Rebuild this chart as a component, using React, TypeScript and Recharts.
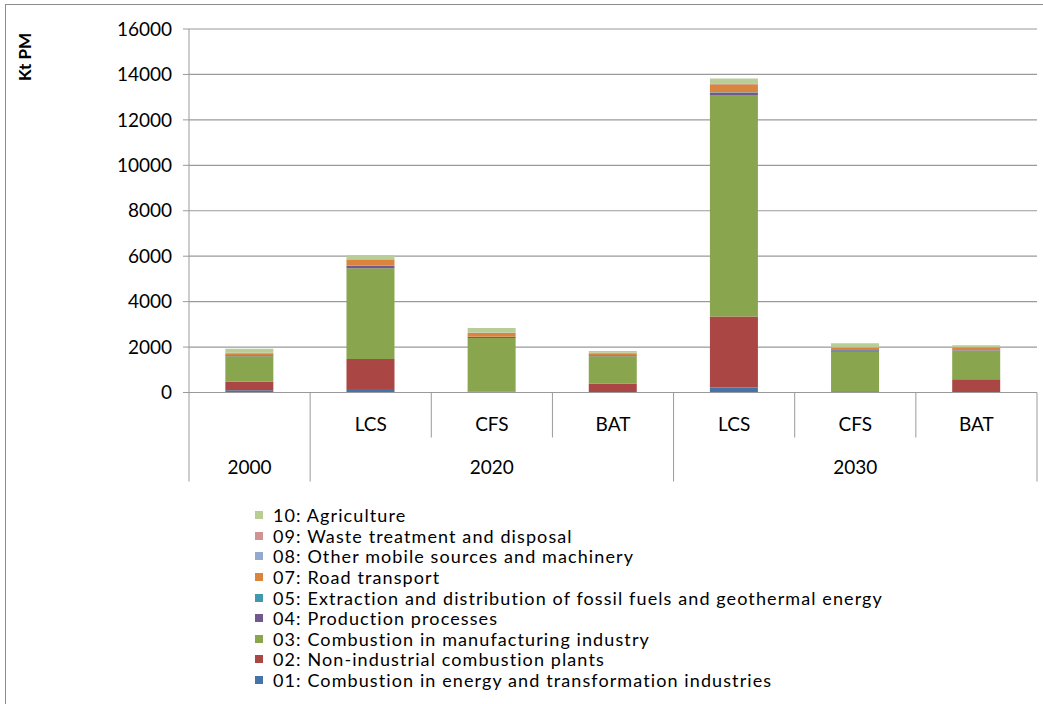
import { Bar, BarChart, CartesianGrid, Legend, XAxis, YAxis } from 'recharts';

const categories = ['2000', '2020 LCS', '2020 CFS', '2020 BAT', '2030 LCS', '2030 CFS', '2030 BAT'];
const groupLabels = ['2000', '2020', '2020', '2020', '2030', '2030', '2030'];
const subLabels = ['', 'LCS', 'CFS', 'BAT', 'LCS', 'CFS', 'BAT'];
const yTicks = [0, 2000, 4000, 6000, 8000, 10000, 12000, 14000, 16000];

const s01 = [100, 150, 20, 15, 220, 20, 15];
const s02 = [380, 1320, 25, 385, 3120, 30, 570];
const s03 = [1120, 4000, 2350, 1200, 9760, 1740, 1240];
const s04 = [40, 100, 45, 40, 90, 75, 25];
const s05 = [10, 20, 10, 10, 25, 10, 10];
const s07 = [80, 250, 165, 75, 350, 90, 115];
const s08 = [15, 25, 15, 15, 30, 15, 15];
const s09 = [10, 15, 10, 10, 20, 10, 10];
const s10 = [170, 160, 200, 80, 210, 180, 80];

// bottom to top of each stack
const series = [
  { key: 's01', name: '01: Combustion in energy and transformation industries', color: '#4572A7', values: s01 },
  { key: 's02', name: '02: Non-industrial combustion plants', color: '#AA4643', values: s02 },
  { key: 's03', name: '03: Combustion in manufacturing industry', color: '#89A54E', values: s03 },
  { key: 's04', name: '04: Production processes', color: '#71588F', values: s04 },
  { key: 's05', name: '05: Extraction and distribution of fossil fuels and geothermal energy', color: '#4198AF', values: s05 },
  { key: 's07', name: '07: Road transport', color: '#DB843D', values: s07 },
  { key: 's08', name: '08: Other mobile sources and machinery', color: '#93A9CF', values: s08 },
  { key: 's09', name: '09: Waste treatment and disposal', color: '#D19392', values: s09 },
  { key: 's10', name: '10: Agriculture', color: '#B9CD96', values: s10 },
];

const data = categories.map((cat, i) => {
  const row: Record<string, string | number> = { cat };
  series.forEach((s) => {
    row[s.key] = s.values[i];
  });
  return row;
});

const FONT = 'Lato, "Open Sans", sans-serif';
const GRID = '#9a9a9a';

function CategoryTick(props: any) {
  const { x, y, index, payload, width, visibleTicksCount } = props;
  const half = payload?.offset || width / visibleTicksCount / 2;
  const isGroupStart = index === 0 || groupLabels[index] !== groupLabels[index - 1];
  const isLast = index === categories.length - 1;
  const members = groupLabels
    .map((g, i) => (g === groupLabels[index] ? i : -1))
    .filter((i) => i >= 0);
  const groupMid = members[0] + (members.length - 1) / 2;
  const groupX = x + (groupMid - index) * half * 2;
  const showGroup = members[0] === index;

  return (
    <g>
      <line x1={x - half} x2={x - half} y1={y} y2={y + (isGroupStart ? 89 : 45)} stroke={GRID} />
      {isLast && <line x1={x + half} x2={x + half} y1={y} y2={y + 89} stroke={GRID} />}
      {subLabels[index] && (
        <text x={x} y={y + 38} textAnchor="middle" fontSize={19} fontFamily={FONT} fill="#000">
          {subLabels[index]}
        </text>
      )}
      {showGroup && (
        <text x={groupX} y={y + 81} textAnchor="middle" fontSize={19} fontFamily={FONT} fill="#000">
          {groupLabels[index]}
        </text>
      )}
    </g>
  );
}

function SectorLegend() {
  return (
    <div style={{ fontFamily: FONT, fontSize: 18, letterSpacing: 1.1, color: '#000' }}>
      {[...series].reverse().map((s) => (
        <div key={s.key} style={{ display: 'flex', alignItems: 'center', height: 20.6, whiteSpace: 'nowrap' }}>
          <span style={{ width: 8, height: 8, background: s.color, marginRight: 10, display: 'inline-block' }} />
          <span>{s.name}</span>
        </div>
      ))}
    </div>
  );
}

export default function App() {
  return (
    <div style={{ position: 'absolute', left: 0, top: 0, width: 1043, height: 704, background: '#fff', overflow: 'hidden' }}>
      <div
        style={{
          position: 'absolute',
          left: 5,
          top: 4,
          width: 1100,
          height: 800,
          borderLeft: '1.5px solid #8c8c8c',
          borderTop: '1.5px solid #8c8c8c',
        }}
      />
      <BarChart
        width={1043}
        height={704}
        data={data}
        margin={{ top: 29, right: 6, left: 0, bottom: 222.5 }}
        barCategoryGap="30%"
        style={{ position: 'absolute', left: 0, top: 0 }}
      >
        <CartesianGrid vertical={false} stroke={GRID} strokeWidth={1.2} />
        <XAxis
          dataKey="cat"
          height={89}
          interval={0}
          tickLine={false}
          tickSize={0}
          tickMargin={0}
          stroke={GRID}
          tick={<CategoryTick />}
        />
        <YAxis
          width={189}
          domain={[0, 16000]}
          ticks={yTicks}
          interval={0}
          tickSize={6}
          tickMargin={11}
          stroke={GRID}
          tick={{ fill: '#000', fontSize: 19, fontFamily: FONT }}
          label={{
            content: () => (
              <text
                x={31}
                y={57}
                transform="rotate(-90 31 57)"
                textAnchor="middle"
                fontSize={17}
                fontWeight="bold"
                fontFamily={FONT}
                fill="#000"
              >
                Kt PM
              </text>
            ),
          }}
        />
        <Legend
          layout="vertical"
          align="center"
          verticalAlign="middle"
          wrapperStyle={{ left: 255, top: 505, width: 'auto' }}
          content={<SectorLegend />}
        />
        {series.map((s) => (
          <Bar key={s.key} dataKey={s.key} name={s.name} stackId="pm" fill={s.color} isAnimationActive={false} />
        ))}
      </BarChart>
    </div>
  );
}
